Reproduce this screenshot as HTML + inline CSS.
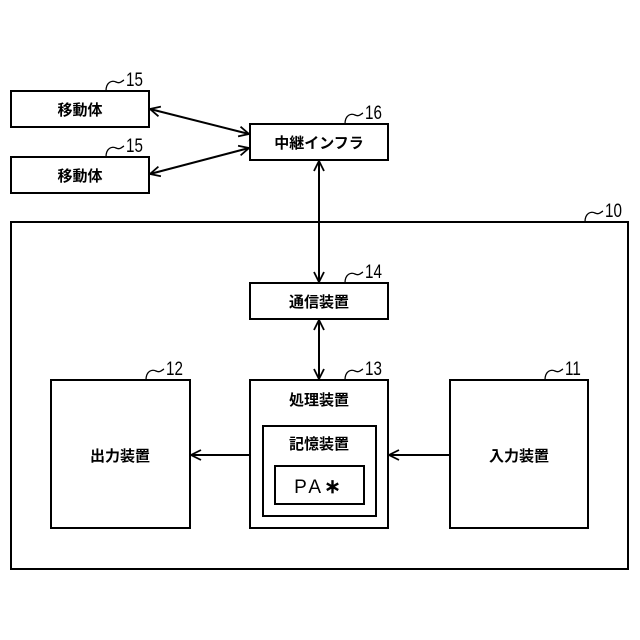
<!DOCTYPE html>
<html><head><meta charset="utf-8"><style>
html,body{margin:0;padding:0;background:#fff;width:640px;height:640px;overflow:hidden}
svg{display:block}
.j{font-family:"Liberation Sans","Noto Sans CJK JP",sans-serif;font-size:15px;font-weight:bold;fill:#000}
.n{font-family:"Liberation Sans",sans-serif;font-size:19px;fill:#000}
</style></head><body>
<svg width="640" height="640" viewBox="0 0 640 640">
<defs>
<marker id="a" viewBox="0 0 12 12" refX="11" refY="6" markerWidth="12" markerHeight="12" markerUnits="userSpaceOnUse" orient="auto-start-reverse">
<path d="M1,1 L11,6 L1,11" fill="none" stroke="#000" stroke-width="1.8"/>
</marker>
</defs>
<g fill="none" stroke="#000" stroke-width="2">
<rect x="11" y="91" width="138" height="36"/>
<rect x="11" y="157" width="138" height="36"/>
<rect x="250" y="124" width="138" height="36"/>
<rect x="11" y="222" width="617" height="347"/>
<rect x="250" y="283" width="138" height="36"/>
<rect x="250" y="380" width="138" height="148"/>
<rect x="263" y="426" width="113" height="90"/>
<rect x="275" y="466" width="89" height="38"/>
<rect x="51" y="380" width="139" height="148"/>
<rect x="450" y="380" width="138" height="148"/>
<line x1="150" y1="109" x2="249" y2="134" marker-start="url(#a)" marker-end="url(#a)"/>
<line x1="150" y1="174" x2="249" y2="148" marker-start="url(#a)" marker-end="url(#a)"/>
<line x1="319" y1="161" x2="319" y2="282" marker-start="url(#a)" marker-end="url(#a)"/>
<line x1="319" y1="320" x2="319" y2="379" marker-start="url(#a)" marker-end="url(#a)"/>
<line x1="250" y1="455" x2="191" y2="455" marker-end="url(#a)"/>
<line x1="450" y1="455" x2="389" y2="455" marker-end="url(#a)"/>
</g>
<g fill="none" stroke="#000" stroke-width="1.3">
<path d="M106,91 C106,82 112,80 116,82 S122,81 124,80"/>
<path d="M106,157 C106,148 112,146 116,148 S122,147 124,146"/>
<path d="M345,124 C345,115 351,113 355,115 S361,114 363,113"/>
<path d="M585,222 C585,213 591,211 595,213 S601,212 603,211"/>
<path d="M345,283 C345,274 351,272 355,274 S361,273 363,272"/>
<path d="M345,380 C345,371 351,369 355,371 S361,370 363,369"/>
<path d="M146,380 C146,371 152,369 156,371 S162,370 164,369"/>
<path d="M545,380 C545,371 551,369 555,371 S561,370 563,369"/>
</g>
<g class="n">
<text transform="translate(126,86) scale(0.8,1)">15</text>
<text transform="translate(126,152) scale(0.8,1)">15</text>
<text transform="translate(365,119) scale(0.8,1)">16</text>
<text transform="translate(605,217) scale(0.8,1)">10</text>
<text transform="translate(365,278) scale(0.8,1)">14</text>
<text transform="translate(365,375) scale(0.8,1)">13</text>
<text transform="translate(166,375) scale(0.8,1)">12</text>
<text transform="translate(565,375) scale(0.8,1)">11</text>
</g>
<g class="j" text-anchor="middle">
<text x="80" y="115">移動体</text>
<text x="80" y="181">移動体</text>
<text x="319" y="148">中継インフラ</text>
<text x="319" y="307">通信装置</text>
<text x="319" y="405">処理装置</text>
<text x="319" y="449">記憶装置</text>
<text x="120" y="461">出力装置</text>
<text x="519" y="461">入力装置</text>
<text x="319" y="493" style="font-size:19px;font-weight:normal;letter-spacing:3px">PA<tspan style="font-weight:bold;font-size:20px">∗</tspan></text>
</g>
</svg>
</body></html>
